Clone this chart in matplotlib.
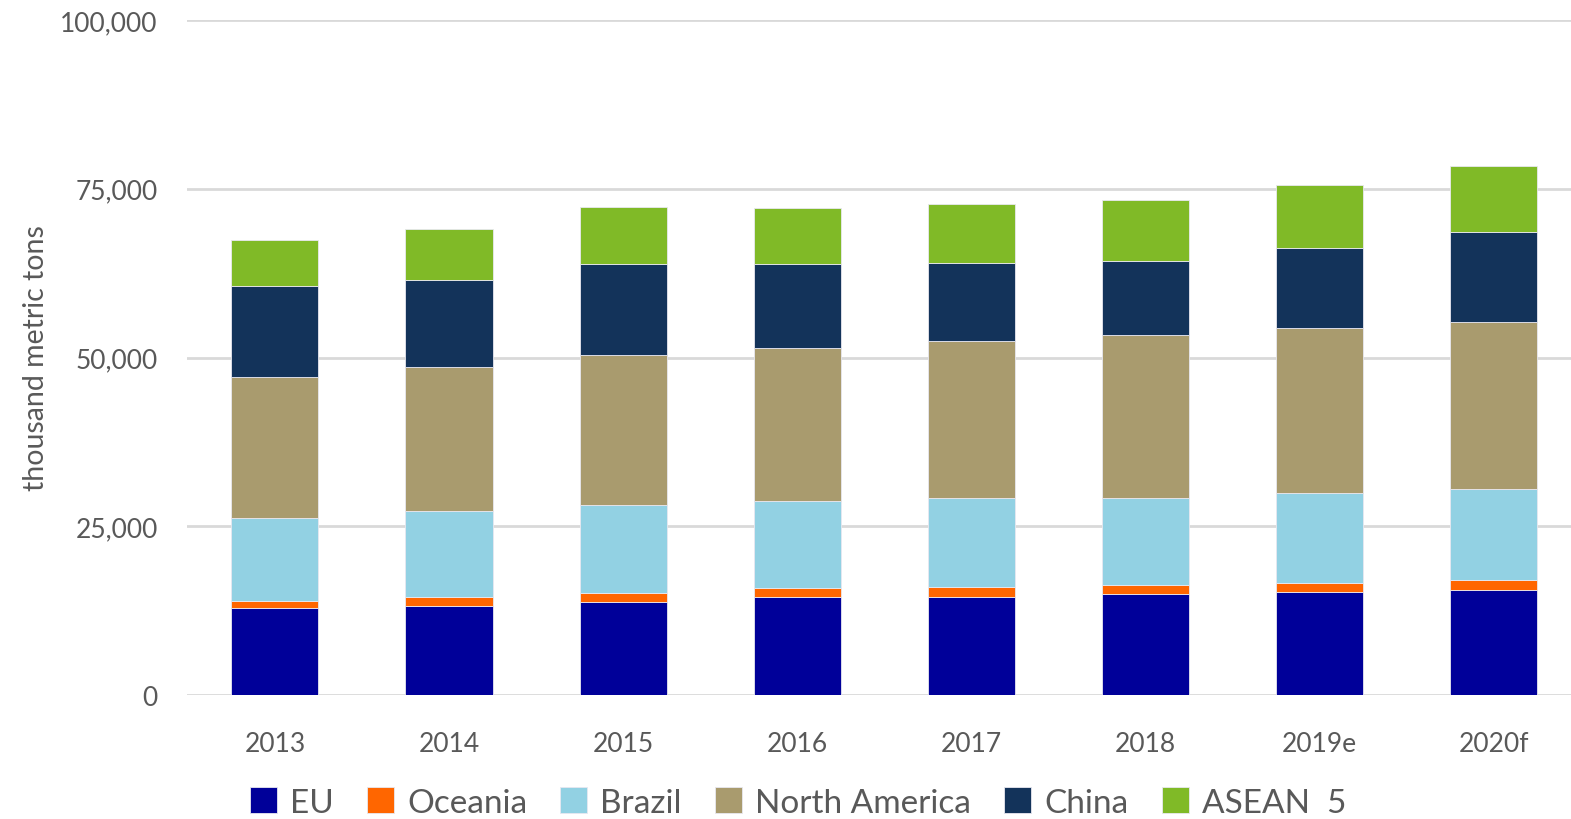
import matplotlib.pyplot as plt
import numpy as np

years = ['2013', '2014', '2015', '2016', '2017', '2018', '2019e', '2020f']
eu = [12900, 13200, 13800, 14500, 14500, 15000, 15300, 15600]
oceania = [1000, 1300, 1300, 1400, 1500, 1300, 1300, 1400]
brazil = [12300, 12800, 13000, 12800, 13200, 12900, 13300, 13500]
north_america = [20900, 21300, 22300, 22700, 23200, 24100, 24500, 24800]
china = [13500, 12900, 13500, 12500, 11600, 11000, 11800, 13300]
asean = [6800, 7500, 8400, 8200, 8700, 9000, 9400, 9800]

series = [eu, oceania, brazil, north_america, china, asean]
names = ['EU', 'Oceania', 'Brazil', 'North America', 'China', 'ASEAN  5']
colores = ['#000099', '#FF6600', '#92D1E3', '#A99B6E', '#13335A', '#80BA27']

plt.rcParams['font.family'] = ['Lato', 'DejaVu Sans']
gris = '#595959'

fig = plt.figure(figsize=(15.71, 8.2), dpi=100)
ax = fig.add_axes([187/1571, 1-696/820, 1-187/1571, (696-21)/820])

x = np.arange(len(years))
base = np.zeros(len(years))
for vals, nom, col in zip(series, names, colores):
    ax.bar(x, vals, 0.5, bottom=base, color=col, label=nom,
           edgecolor='#E8E8F0', linewidth=0.6, zorder=3)
    base += np.array(vals)

ax.set_xlim(-0.505, 7.445)
ax.set_ylim(0, 100000)
ax.set_yticks([0, 25000, 50000, 75000, 100000])
ax.set_yticklabels(['0', '25,000', '50,000', '75,000', '100,000'])
ax.set_xticks(x)
ax.set_xticklabels(years)
ax.tick_params(axis='both', length=0, labelsize=19, labelcolor=gris)
ax.tick_params(axis='x', pad=26)
ax.tick_params(axis='y', pad=21)
ax.grid(axis='y', color='#D9D9D9', linewidth=2, zorder=0)
for s in ax.spines.values():
    s.set_visible(False)
ax.set_ylabel('thousand metric tons', fontsize=20.5, color=gris, labelpad=8)

fig.legend(loc='center', bbox_to_anchor=(0.508, 0.02), ncol=6, frameon=False,
           fontsize=24, labelcolor=gris, handlelength=0.8, handleheight=0.8,
           handletextpad=0.4, columnspacing=1.0)

fig.savefig('out.png', dpi=100)
